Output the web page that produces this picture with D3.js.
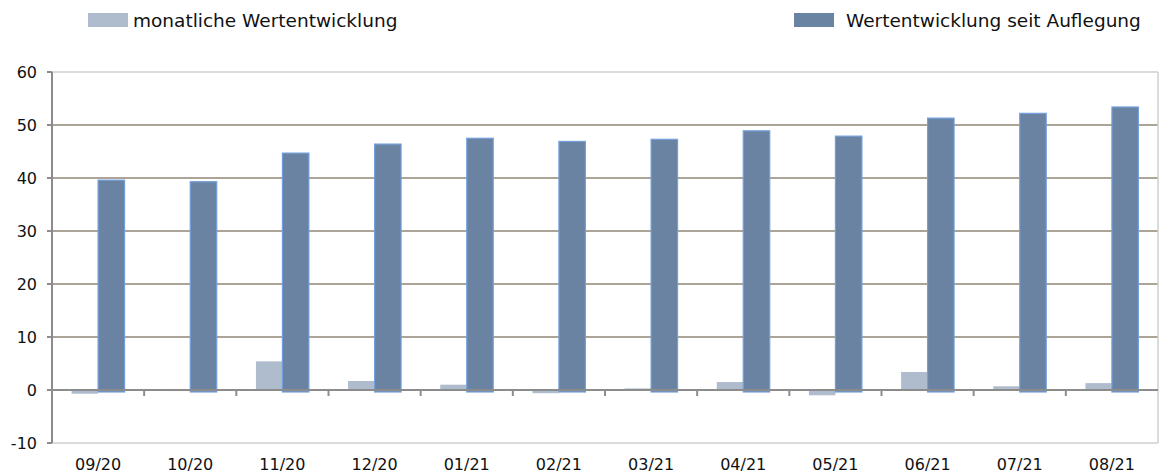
<html>
<script src='https://d3js.org/d3.v7.min.js'></script>
<body style="margin:0; background:#fff;">
<svg width=1159 height=475></svg>
<script>

var months = ['09/20','10/20','11/20','12/20','01/21','02/21','03/21','04/21','05/21','06/21','07/21','08/21'];
var monthly = [-0.7, -0.2, 5.4, 1.7, 1.0, -0.6, 0.3, 1.5, -1.0, 3.4, 0.7, 1.3];
var sinceLaunch = [39.6, 39.3, 44.7, 46.4, 47.5, 46.9, 47.3, 48.9, 47.9, 51.3, 52.2, 53.4];
var yTicks = [-10, 0, 10, 20, 30, 40, 50, 60];
var seriesNames = ['monatliche Wertentwicklung', 'Wertentwicklung seit Auflegung'];

var colors = ['#aebccd', '#6a83a2'];
var font = 'Verdana, "DejaVu Sans", sans-serif';

var plotLeft = 52, plotRight = 1158, plotTop = 72, plotBottom = 443;

var svg = d3.select('svg');

var x = d3.scaleBand().domain(months).range([plotLeft, plotRight]);
var x1 = d3.scaleBand().domain([0, 1]).range([0, x.bandwidth()]).paddingOuter(0.74);
var y = d3.scaleLinear().domain([-10, 60]).range([plotBottom, plotTop]);

// grid lines
svg.append('g').selectAll('line')
    .data(yTicks.filter(d => d > 0 && d < 60))
    .join('line')
    .attr('x1', plotLeft).attr('x2', plotRight)
    .attr('y1', d => y(d)).attr('y2', d => y(d))
    .attr('stroke', '#8f8675').attr('stroke-width', 1.5);

// frame
svg.append('line').attr('x1', plotLeft).attr('x2', plotRight).attr('y1', y(60)).attr('y2', y(60))
    .attr('stroke', '#cfcfcf').attr('stroke-width', 1.5);
svg.append('line').attr('x1', plotLeft).attr('x2', plotRight).attr('y1', y(-10)).attr('y2', y(-10))
    .attr('stroke', '#cfcfcf').attr('stroke-width', 1.5);
svg.append('line').attr('x1', plotRight).attr('x2', plotRight).attr('y1', y(60)).attr('y2', y(-10))
    .attr('stroke', '#cfcfcf').attr('stroke-width', 1.5);

// monthly bars
svg.append('g').selectAll('rect')
    .data(monthly)
    .join('rect')
    .attr('x', (d, i) => x(months[i]) + x1(0))
    .attr('y', d => y(Math.max(0, d)))
    .attr('width', x1.bandwidth())
    .attr('height', d => Math.abs(y(d) - y(0)))
    .attr('fill', colors[0]);

// since launch bars
svg.append('g').selectAll('rect')
    .data(sinceLaunch)
    .join('rect')
    .attr('x', (d, i) => x(months[i]) + x1(1))
    .attr('y', d => y(d))
    .attr('width', x1.bandwidth())
    .attr('height', d => y(0) - y(d) + 2)
    .attr('fill', colors[1])
    .attr('stroke', '#73a0dc')
    .attr('stroke-width', 1.2);

// zero line + x ticks
svg.append('line').attr('x1', plotLeft).attr('x2', plotRight).attr('y1', y(0)).attr('y2', y(0))
    .attr('stroke', '#8c8c8c').attr('stroke-width', 2);
svg.append('g').selectAll('line')
    .data(months.slice(1))
    .join('line')
    .attr('x1', d => x(d)).attr('x2', d => x(d))
    .attr('y1', y(0)).attr('y2', y(0) + 6)
    .attr('stroke', '#8c8c8c').attr('stroke-width', 2);

// left axis
svg.append('line').attr('x1', plotLeft).attr('x2', plotLeft).attr('y1', y(60)).attr('y2', y(-10))
    .attr('stroke', '#8c8c8c').attr('stroke-width', 2);
svg.append('g').selectAll('line')
    .data(yTicks)
    .join('line')
    .attr('x1', plotLeft - 5).attr('x2', plotLeft)
    .attr('y1', d => y(d)).attr('y2', d => y(d))
    .attr('stroke', '#8c8c8c').attr('stroke-width', 2);

svg.append('g').selectAll('text')
    .data(yTicks)
    .join('text')
    .attr('x', 37)
    .attr('y', d => y(d) + 5.5)
    .attr('text-anchor', 'end')
    .attr('font-family', font)
    .attr('font-size', '16px')
    .attr('fill', '#111')
    .text(d => d);

svg.append('g').selectAll('text')
    .data(months)
    .join('text')
    .attr('x', d => x(d) + x.bandwidth() / 2)
    .attr('y', 470)
    .attr('text-anchor', 'middle')
    .attr('font-family', font)
    .attr('font-size', '16px')
    .attr('fill', '#111')
    .text(d => d);

// legend
var legendX = [88, 794];
var legend = svg.append('g').selectAll('g')
    .data(seriesNames)
    .join('g')
    .attr('transform', (d, i) => 'translate(' + legendX[i] + ',0)');
legend.append('rect')
    .attr('x', 0).attr('y', 13).attr('width', 40).attr('height', 14)
    .attr('fill', (d, i) => colors[i]);
legend.append('text')
    .attr('x', (d, i) => i == 0 ? 45 : 52)
    .attr('y', 27)
    .attr('font-family', font)
    .attr('font-size', '18.5px')
    .attr('fill', '#111')
    .text(d => d);
</script>
</body>
</html>
